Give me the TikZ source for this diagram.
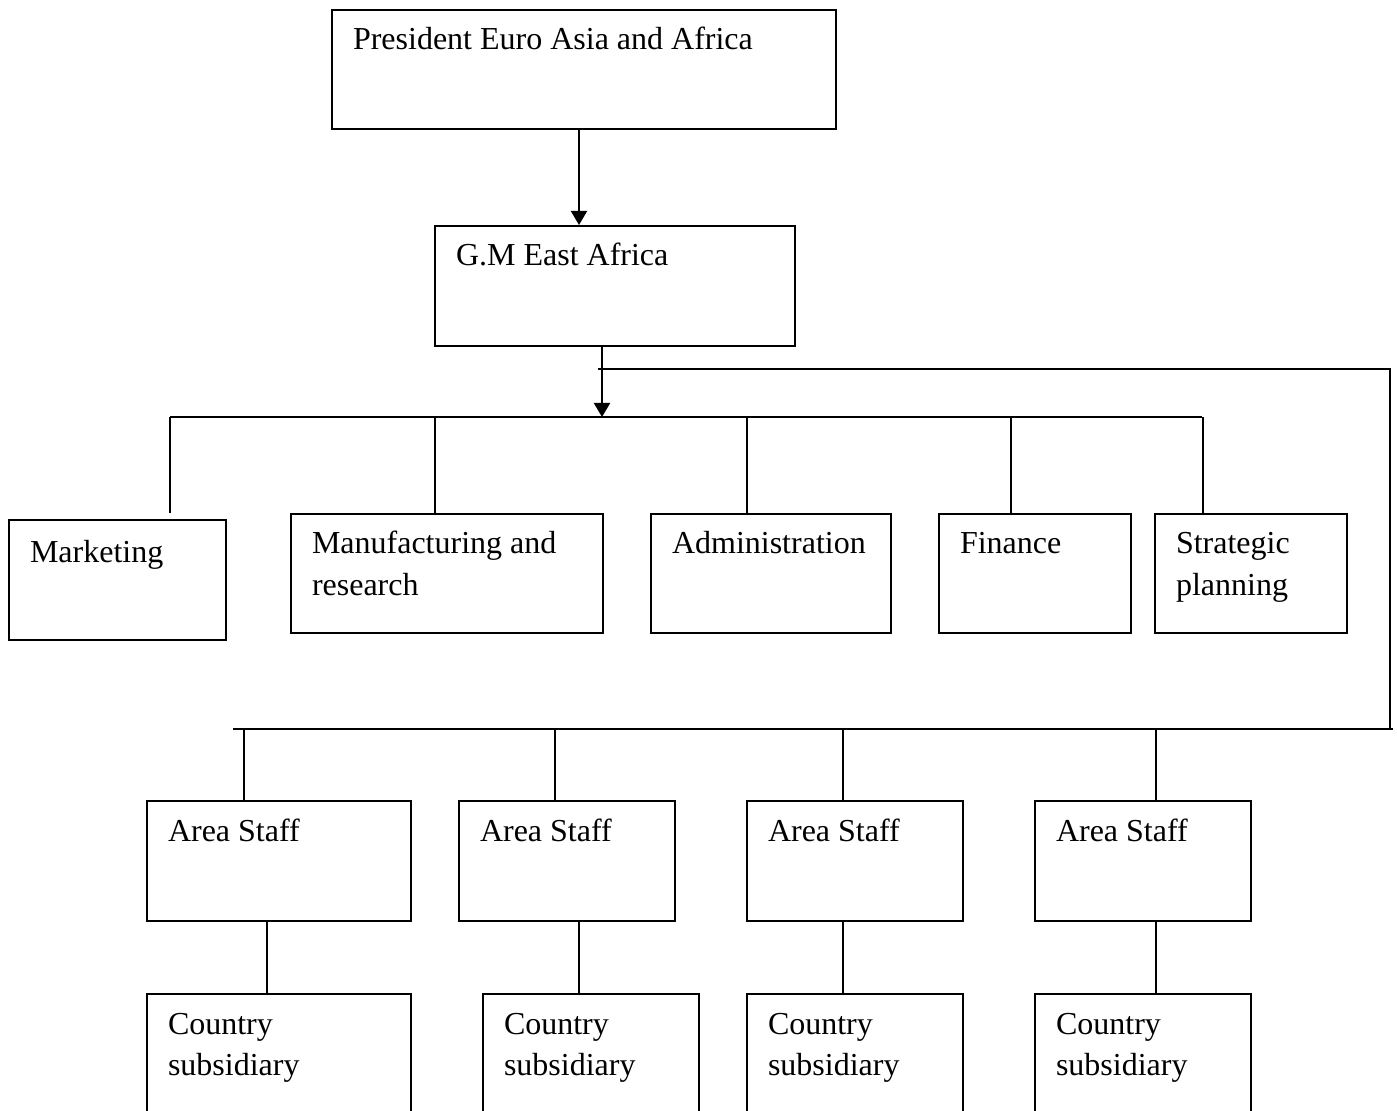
\documentclass[tikz,border=0pt]{standalone}
\usepackage{fontspec}
\setmainfont{Liberation Serif}
\usepackage{tikz}
\usetikzlibrary{arrows.meta}

\begin{document}
\begin{tikzpicture}[x=0.5pt, y=-0.5pt, line width=1pt, >={Triangle[length=7pt,width=8pt]},
  box/.style={draw, anchor=north west, inner xsep=10.5pt, inner ysep=0pt, align=flush left,
    text height=20pt, font=\fontsize{16}{20.75}\selectfont}]
  \useasboundingbox (0,0) rectangle (1397,1111);
  \clip (0,0) rectangle (1397,1111);

  % Top of the chart
  \node[box, text width=231pt, text depth=39.5pt] (pres) at (331,9) {President Euro Asia and Africa};
  \node[box, text width=159pt, text depth=40pt] (gm) at (434,225) {G.M East Africa};
  \draw[->] ([xshift=-2.5pt]pres.south) -- ([xshift=-2.5pt]pres.south |- gm.north);

  % Departments
  \node[box, text width=87.5pt, text height=21.5pt, text depth=38.5pt] (mkt) at (8,519) {Marketing};
  \node[box, text width=135pt, text depth=39.5pt] (mfg) at (290,513) {Manufacturing and\\research};
  \node[box, text width=99pt, text depth=39.5pt] (adm) at (650,513) {Administration};
  \node[box, text width=75pt, text depth=39.5pt] (fin) at (938,513) {Finance};
  \node[box, text width=75pt, text depth=39.5pt] (str) at (1154,513) {Strategic\\planning};

  \coordinate (barL) at (170,417);
  \coordinate (barR) at (1202,417);
  \draw (barL) -- (barR);
  \draw (barL) -- (barL |- mfg.north);
  \foreach \d/\dx in {mfg/-6, adm/-12, fin/-12, str/-24}
    \draw ([xshift=\dx pt]\d.north) -- ([xshift=\dx pt]\d.north |- barL);
  \draw[->] ([xshift=-6.5pt]gm.south) -- ([xshift=-6.5pt]gm.south |- barL);

  % Line round to the areas
  \coordinate (loopL) at (598,369);
  \coordinate (loopR) at (1390,369);
  \coordinate (busL) at (233,729);
  \coordinate (busR) at (1393,729);
  \draw (loopL) -- (loopR) -- (loopR |- busL);
  \draw (busL) -- (busR);

  % Areas and countries
  \node[box, text width=111pt, text depth=40pt] (a1) at (146,800) {Area Staff};
  \node[box, text width=87pt, text depth=40pt] (a2) at (458,800) {Area Staff};
  \node[box, text width=87pt, text depth=40pt] (a3) at (746,800) {Area Staff};
  \node[box, text width=87pt, text depth=40pt] (a4) at (1034,800) {Area Staff};

  \node[box, text width=111pt, text depth=70pt] (c1) at (146,993) {Country\\subsidiary};
  \node[box, text width=87pt, text depth=70pt] (c2) at (482,993) {Country\\subsidiary};
  \node[box, text width=87pt, text depth=70pt] (c3) at (746,993) {Country\\subsidiary};
  \node[box, text width=87pt, text depth=70pt] (c4) at (1034,993) {Country\\subsidiary};

  \foreach \a/\dx in {a1/-17.5, a2/-6, a3/-6, a4/6.5}
    \draw ([xshift=\dx pt]\a.north) -- ([xshift=\dx pt]\a.north |- busL);
  \foreach \a/\c/\dx in {a1/c1/-6, a2/c2/6, a3/c3/-6, a4/c4/6.5}
    \draw ([xshift=\dx pt]\a.south) -- ([xshift=\dx pt]\a.south |- \c.north);
\end{tikzpicture}
\end{document}
